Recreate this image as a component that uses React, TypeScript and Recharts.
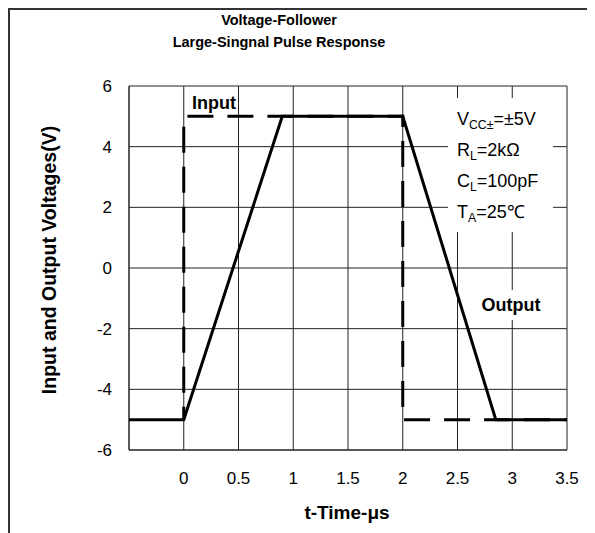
import { CartesianGrid, Line, LineChart, XAxis, YAxis } from "recharts";

const inputTimes = [0, 0, 2, 2, 3.5];
const inputVolts = [-5, 5, 5, -5, -5];
const outputTimes = [-0.5, 0, 0.9, 2, 2.85, 3.5];
const outputVolts = [-5, -5, 5, 5, -5, -5];
const xTicks = [-0.5, 0, 0.5, 1, 1.5, 2, 2.5, 3, 3.5];
const yTicks = [-6, -4, -2, 0, 2, 4, 6];

const inputData = inputTimes.map((t, i) => ({ t, v: inputVolts[i] }));
const outputData = outputTimes.map((t, i) => ({ t, v: outputVolts[i] }));

const font = '"Liberation Sans", Arial, sans-serif';
const sub = { fontSize: "0.68em", verticalAlign: "-0.3em", lineHeight: 0 };

export default function App() {
  return (
    <div
      style={{
        position: "relative",
        width: 587,
        height: 525,
        fontFamily: font,
        color: "#000",
      }}
    >
      {/* frame of the figure: top and left edges only */}
      <div style={{ position: "absolute", left: 0, top: 0, width: 587, height: 2, background: "#333", zIndex: 2 }} />
      <div style={{ position: "absolute", left: 0, top: 0, width: 2, height: 525, background: "#333", zIndex: 2 }} />

      <div style={{ position: "absolute", left: 2, top: 0 }}>
        <LineChart width={585} height={525} margin={{ top: 78, right: 28, left: 79, bottom: 53 }}>
          <CartesianGrid stroke="#222" strokeWidth={1} />
          <XAxis
            type="number"
            dataKey="t"
            domain={[-0.5, 3.5]}
            ticks={xTicks}
            tickFormatter={(v: number) => (v === -0.5 ? "" : String(v))}
            tickLine={false}
            tickSize={0}
            tickMargin={22}
            height={30}
            axisLine={{ stroke: "#222" }}
            tick={{ fill: "#000", fontSize: 17, fontFamily: font }}
            allowDuplicatedCategory={false}
          />
          <YAxis
            type="number"
            domain={[-6, 6]}
            ticks={yTicks}
            tickLine={false}
            tickSize={0}
            tickMargin={17}
            width={40}
            axisLine={{ stroke: "#222" }}
            tick={{ fill: "#000", fontSize: 17, fontFamily: font }}
          />
          <Line
            data={inputData}
            dataKey="v"
            type="linear"
            stroke="#000"
            strokeWidth={3}
            strokeDasharray="26 14"
            strokeDashoffset={13}
            dot={false}
            isAnimationActive={false}
          />
          <Line
            data={outputData}
            dataKey="v"
            type="linear"
            stroke="#000"
            strokeWidth={3}
            dot={false}
            isAnimationActive={false}
          />
        </LineChart>
      </div>

      <div style={{ position: "absolute", left: 71, top: 1, width: 400, textAlign: "center", fontWeight: "bold", fontSize: 14.5, lineHeight: "22px" }}>
        Voltage-Follower
        <br />
        Large-Singnal Pulse Response
      </div>

      <div
        style={{
          position: "absolute",
          left: -119,
          top: 241,
          width: 320,
          height: 22,
          lineHeight: "22px",
          textAlign: "center",
          fontWeight: "bold",
          fontSize: 19.5,
          transform: "rotate(-90deg)",
        }}
      >
        Input and Output Voltages(V)
      </div>

      <div style={{ position: "absolute", left: 239, top: 494, width: 200, textAlign: "center", fontWeight: "bold", fontSize: 19, lineHeight: "22px" }}>
        t-Time-μs
      </div>

      <div style={{ position: "absolute", left: 184, top: 84, fontWeight: "bold", fontSize: 18, lineHeight: "22px" }}>Input</div>

      <div
        style={{
          position: "absolute",
          left: 470,
          top: 282,
          width: 66,
          height: 30,
          background: "#fff",
          textAlign: "center",
          fontWeight: "bold",
          fontSize: 18,
          lineHeight: "30px",
        }}
      >
        Output
      </div>

      <div
        style={{
          position: "absolute",
          left: 440,
          top: 90,
          width: 105,
          height: 134,
          boxSizing: "border-box",
          paddingLeft: 9,
          paddingTop: 5.5,
          background: "#fff",
          fontSize: 18,
          lineHeight: "31px",
          whiteSpace: "nowrap",
        }}
      >
        <div>
          V<span style={sub}>CC±</span>=±5V
        </div>
        <div>
          R<span style={sub}>L</span>=2kΩ
        </div>
        <div>
          C<span style={sub}>L</span>=100pF
        </div>
        <div>
          T<span style={sub}>A</span>=25℃
        </div>
      </div>
    </div>
  );
}
